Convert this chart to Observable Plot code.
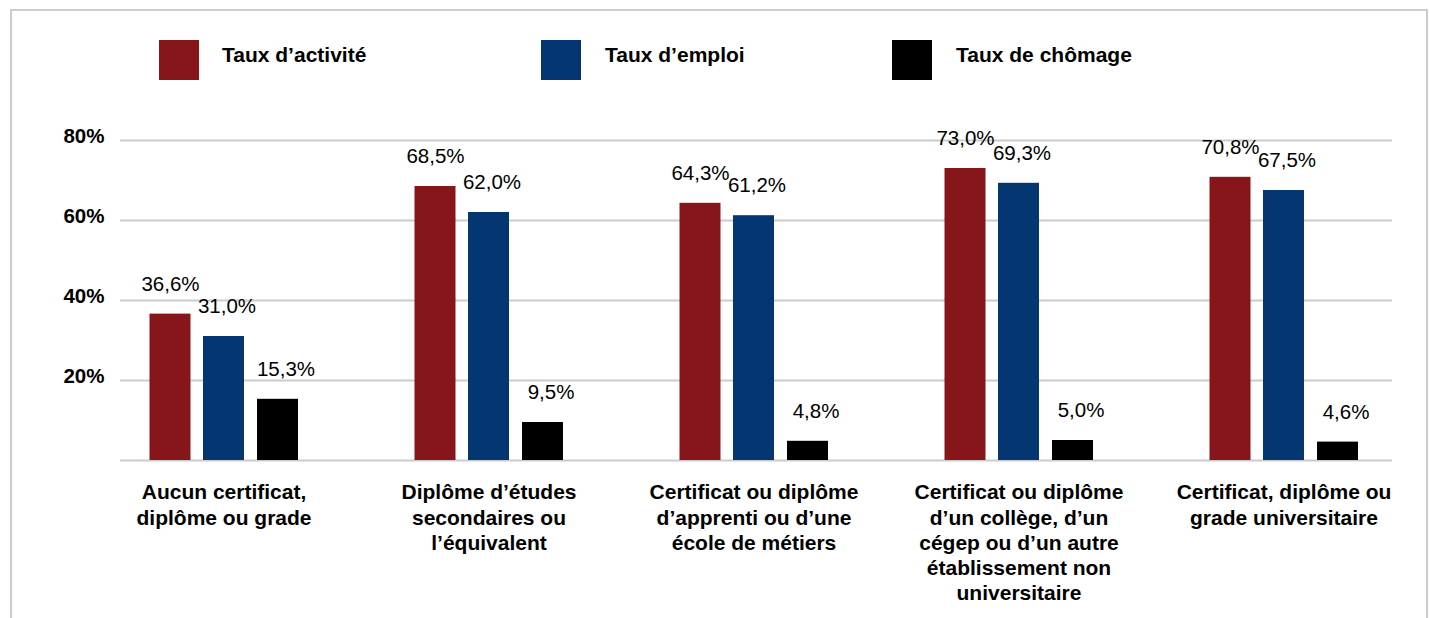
<!DOCTYPE html>
<html>
<head>
<meta charset="utf-8">
<script src="https://cdn.jsdelivr.net/npm/d3@7"></script>
<script src="https://cdn.jsdelivr.net/npm/@observablehq/plot@0.6"></script>
<style>
  html, body { margin: 0; padding: 0; background: #fff; }
  body { width: 1429px; height: 618px; position: relative; overflow: hidden; font-family: "Liberation Sans", Arial, sans-serif; }
  #frame { position: absolute; left: 10px; top: 9px; width: 1414px; height: 700px; border: 2px solid #cccccc; border-bottom: none; pointer-events: none; }
  #legend { position: relative; width: 1429px; height: 100px; }
  .sw { position: absolute; top: 40px; width: 40px; height: 40px; }
  .lt { position: absolute; top: 44px; font-size: 21px; line-height: 21px; font-weight: bold; color: #000; white-space: nowrap; }
  #chart svg { display: block; }
</style>
</head>
<body>
<div id="frame"></div>
<div id="legend"></div>
<div id="chart"></div>
<script>
const categories = [
  "Aucun certificat,\ndiplôme ou grade",
  "Diplôme d’études\nsecondaires ou\nl’équivalent",
  "Certificat ou diplôme\nd’apprenti ou d’une\nécole de métiers",
  "Certificat ou diplôme\nd’un collège, d’un\ncégep ou d’un autre\nétablissement non\nuniversitaire",
  "Certificat, diplôme ou\ngrade universitaire"
];
const seriesNames = ["Taux d’activité", "Taux d’emploi", "Taux de chômage"];
const tauxActivite = [36.6, 68.5, 64.3, 73.0, 70.8];
const tauxEmploi = [31.0, 62.0, 61.2, 69.3, 67.5];
const tauxChomage = [15.3, 9.5, 4.8, 5.0, 4.6];
const seriesColors = ["#86161a", "#043672", "#000000"];
const yTicks = [20, 40, 60, 80];

const seriesValues = [tauxActivite, tauxEmploi, tauxChomage];
const rows = categories.flatMap((c, i) => seriesNames.map((s, j) => ({cat: c, series: s, idx: j, value: seriesValues[j][i]})));

// legend
const legend = document.getElementById("legend");
const swLeft = [159, 541, 892];
const txtLeft = [222, 605, 956];
seriesNames.forEach((s, j) => {
  const sw = document.createElement("div");
  sw.className = "sw";
  sw.style.left = swLeft[j] + "px";
  sw.style.background = seriesColors[j];
  legend.appendChild(sw);
  const t = document.createElement("div");
  t.className = "lt";
  t.style.left = txtLeft[j] + "px";
  t.textContent = s;
  legend.appendChild(t);
});

const barOffsets = [-53.5, 0, 54];
const labelShift = [0, 3, 8];
const fmt = v => v.toFixed(1).replace(".", ",") + "%";

const marks = [
  Plot.gridY({ticks: yTicks, stroke: "#cccccc", strokeOpacity: 1, strokeWidth: 2}),
  Plot.ruleY([0], {stroke: "#cccccc", strokeWidth: 2}),
  Plot.axisY({ticks: yTicks, tickFormat: d => d + "%", tickSize: 0, tickPadding: 16, fontSize: 20.5, fontWeight: "bold", fill: "#000", dy: -4, label: null}),
  Plot.axisX({tickSize: 0, tickPadding: 21, fontSize: 21, fontWeight: "bold", fill: "#000", lineHeight: 1.2, label: null})
];
seriesNames.forEach((s, j) => {
  const d = rows.filter(r => r.idx === j);
  marks.push(Plot.barY(d, {x: "cat", y: "value", fill: seriesColors[j], insetLeft: 59, insetRight: 59, dx: barOffsets[j]}));
  marks.push(Plot.text(d, {x: "cat", y: "value", text: r => fmt(r.value), dx: barOffsets[j] + labelShift[j], dy: -30, fontSize: 20.5, fill: "#000"}));
});

const chart = Plot.plot({
  width: 1429,
  height: 518,
  marginLeft: 120,
  marginRight: 37,
  marginTop: 40,
  marginBottom: 158,
  style: {fontFamily: "'Liberation Sans', Arial, sans-serif", background: "transparent", overflow: "visible"},
  x: {type: "band", domain: categories, paddingInner: 0.4, paddingOuter: 0.1, align: 0.453},
  y: {domain: [0, 80]},
  marks
});
document.getElementById("chart").appendChild(chart);
</script>
</body>
</html>
